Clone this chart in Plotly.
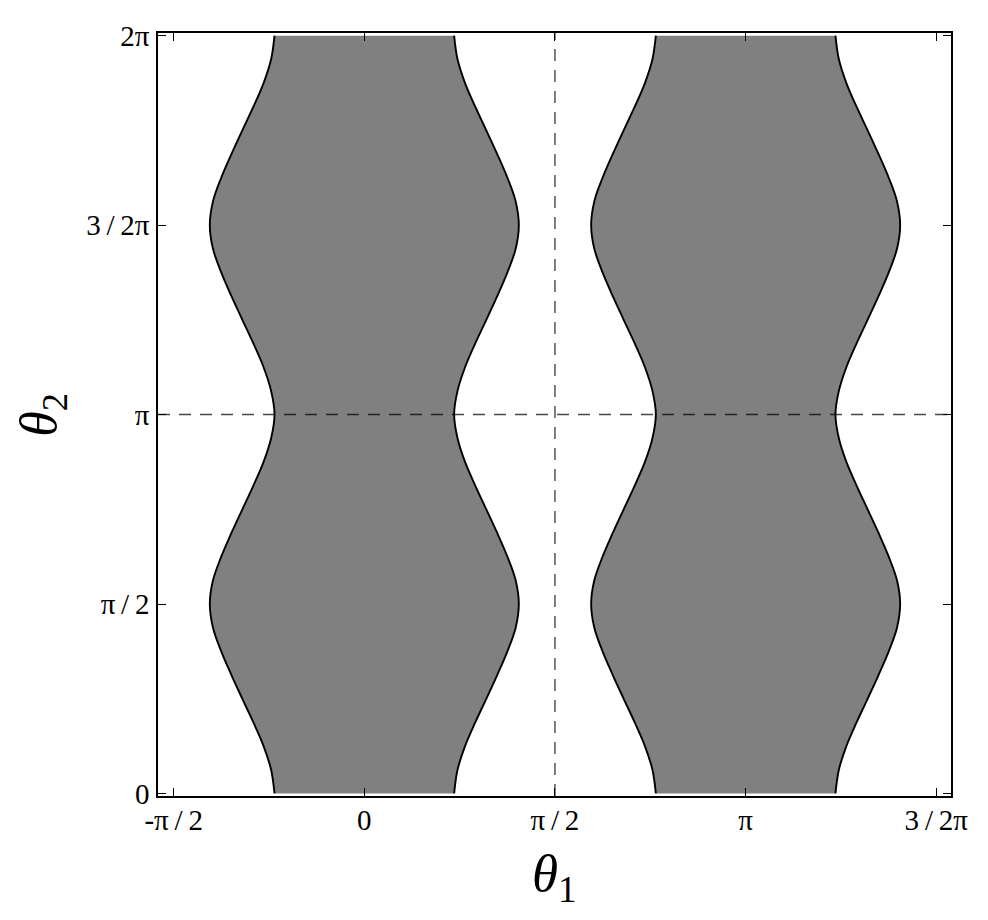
import numpy as np
import plotly.graph_objects as go

# theta2 sample positions (rad) where the boundaries were read
theta2 = [0.000, 0.196, 0.393, 0.589, 0.785, 0.982, 1.178, 1.374, 1.571, 1.767, 1.963,
          2.160, 2.356, 2.553, 2.749, 2.945, 3.142, 3.338, 3.534, 3.731, 3.927, 4.123,
          4.320, 4.516, 4.712, 4.909, 5.105, 5.301, 5.498, 5.694, 5.890, 6.087, 6.283]

# boundary theta1 values
left_band_lo = [-0.740, -0.768, -0.830, -0.914, -1.005, -1.095, -1.179, -1.247, -1.273, -1.247, -1.179,
                -1.095, -1.005, -0.914, -0.830, -0.768, -0.740, -0.768, -0.830, -0.914, -1.005, -1.095,
                -1.179, -1.247, -1.273, -1.247, -1.179, -1.095, -1.005, -0.914, -0.830, -0.768, -0.740]
left_band_hi = [0.740, 0.768, 0.830, 0.914, 1.005, 1.095, 1.179, 1.247, 1.273, 1.247, 1.179,
                1.095, 1.005, 0.914, 0.830, 0.768, 0.740, 0.768, 0.830, 0.914, 1.005, 1.095,
                1.179, 1.247, 1.273, 1.247, 1.179, 1.095, 1.005, 0.914, 0.830, 0.768, 0.740]
right_band_lo = [2.402, 2.374, 2.312, 2.228, 2.137, 2.047, 1.963, 1.895, 1.869, 1.895, 1.963,
                 2.047, 2.137, 2.228, 2.312, 2.374, 2.402, 2.374, 2.312, 2.228, 2.137, 2.047,
                 1.963, 1.895, 1.869, 1.895, 1.963, 2.047, 2.137, 2.228, 2.312, 2.374, 2.402]
right_band_hi = [3.882, 3.910, 3.972, 4.056, 4.147, 4.237, 4.321, 4.389, 4.415, 4.389, 4.321,
                 4.237, 4.147, 4.056, 3.972, 3.910, 3.882, 3.910, 3.972, 4.056, 4.147, 4.237,
                 4.321, 4.389, 4.415, 4.389, 4.321, 4.237, 4.147, 4.056, 3.972, 3.910, 3.882]

# reference (dashed) lines
vline_theta1 = [np.pi / 2]
hline_theta2 = [np.pi]

# ticks
TS = "\u2009"
x_tickvals = [-np.pi / 2, 0, np.pi / 2, np.pi, 3 * np.pi / 2]
x_ticktext = [f"-π{TS}/{TS}2", "0", f"π{TS}/{TS}2", "π", f"3{TS}/{TS}2π"]
y_tickvals = [0, np.pi / 2, np.pi, 3 * np.pi / 2, 2 * np.pi]
y_ticktext = ["0", f"π{TS}/{TS}2", "π", f"3{TS}/{TS}2π", "2π"]

x_range = [-1.700, 4.834]
y_range = [-0.021, 6.305]

FILL = "rgb(128,128,128)"
EDGE = dict(color="black", width=1.9, shape="spline", smoothing=1.0)
SERIF = "Liberation Serif, DejaVu Serif, serif"

fig = go.Figure()
for lo, hi in [(left_band_lo, left_band_hi), (right_band_lo, right_band_hi)]:
    fig.add_trace(go.Scatter(x=lo, y=theta2, mode="lines", line=EDGE,
                             showlegend=False, hoverinfo="skip"))
    fig.add_trace(go.Scatter(x=hi, y=theta2, mode="lines", line=EDGE,
                             fill="tonextx", fillcolor=FILL,
                             showlegend=False, hoverinfo="skip"))

for xv in vline_theta1:
    fig.add_shape(type="line", xref="x", yref="paper", x0=xv, x1=xv, y0=0, y1=1,
                  line=dict(color="rgba(0,0,0,0.72)", width=1.4, dash="12px,9px"),
                  layer="above")
for yv in hline_theta2:
    fig.add_shape(type="line", xref="paper", yref="y", x0=0, x1=1, y0=yv, y1=yv,
                  line=dict(color="rgba(0,0,0,0.72)", width=1.4, dash="12px,9px"),
                  layer="above")

axis_common = dict(showgrid=False, zeroline=False, showline=True, linecolor="black",
                   linewidth=1.5, mirror="allticks", ticks="inside", ticklen=8,
                   tickwidth=1, tickcolor="black",
                   tickfont=dict(family=SERIF, size=29, color="black"))

fig.update_xaxes(range=x_range, tickmode="array", tickvals=x_tickvals, ticktext=x_ticktext,
                 ticklabelstandoff=-3, **axis_common)
fig.update_yaxes(range=y_range, tickmode="array", tickvals=y_tickvals, ticktext=y_ticktext,
                 ticklabelstandoff=1, **axis_common)

fig.add_annotation(text="<i>θ</i><sub>1</sub>", xref="paper", yref="paper",
                   x=0.5, y=-0.106, showarrow=False, xanchor="center", yanchor="middle",
                   font=dict(family=SERIF, size=53, color="black"))
fig.add_annotation(text="<i>θ</i><sub>2</sub>", xref="paper", yref="paper",
                   x=-0.146, y=0.5, showarrow=False, xanchor="center", yanchor="middle",
                   textangle=-90, font=dict(family=SERIF, size=52, color="black"))

# page body adds an 8px margin, so the figure is 8px smaller than the window
fig.update_layout(width=980, height=912, plot_bgcolor="white", paper_bgcolor="white",
                  margin=dict(l=150, r=37, t=21, b=124))

fig.write_html("out.html")
